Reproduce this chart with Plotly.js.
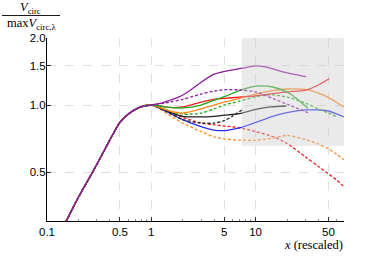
<!DOCTYPE html>
<html>
<head>
<meta charset="utf-8">
<script src="https://cdn.plot.ly/plotly-3.0.1.min.js"></script>
<style>html,body{margin:0;padding:0;background:#fff;}#chart{width:374px;height:259px;}</style>
</head>
<body>
<div id="chart"></div>
<script>
// shared rising part (x < 1), all curves overlap here
const riseX = [0.13, 0.154, 0.2, 0.274, 0.357, 0.45, 0.5, 0.62, 0.77, 1.0];
const riseY = [0.26, 0.303, 0.385, 0.5, 0.63, 0.77, 0.835, 0.92, 0.976, 1.0];

const purpleSolidX = [1.25, 1.5, 1.87, 2.33, 2.9, 3.9, 4.8, 5.6, 7.3, 10, 12.7, 18.3, 24, 30.6];
const purpleSolidY = [1.02, 1.05, 1.09, 1.16, 1.25, 1.37, 1.41, 1.43, 1.46, 1.50, 1.48, 1.41, 1.37, 1.34];

const purpleDashX = [1.5, 2, 3, 4, 5, 7, 10, 14.6, 21, 31.8];
const purpleDashY = [1.03, 1.06, 1.12, 1.155, 1.17, 1.17, 1.145, 1.07, 1.0, 0.924];

const greenSolidX = [1.5, 2, 3, 4, 5, 7, 10, 14.6, 21, 31.8];
const greenSolidY = [0.975, 0.97, 1.0, 1.05, 1.09, 1.16, 1.215, 1.205, 1.13, 0.967];

const greenDashX = [1.5, 2, 3, 4, 5, 7, 10, 14.6, 21, 30, 40, 50, 61.5];
const greenDashY = [0.94, 0.91, 0.92, 0.96, 1.0, 1.04, 1.09, 1.11, 1.08, 1.02, 0.96, 0.92, 0.88];

const redSolidX = [1.5, 2, 3, 4, 5, 7, 10, 14.6, 20, 30.6, 40, 51];
const redSolidY = [0.975, 0.98, 1.03, 1.06, 1.07, 1.085, 1.1, 1.125, 1.145, 1.167, 1.23, 1.316];

const redDashX = [1.5, 2, 3, 4, 5, 7, 10, 14.6, 20, 30, 40, 50, 60, 70];
const redDashY = [0.93, 0.88, 0.83, 0.815, 0.805, 0.79, 0.76, 0.722, 0.672, 0.585, 0.53, 0.49, 0.46, 0.43];

const orangeSolidX = [1.5, 2, 3, 4, 5, 7, 10, 14.6, 20, 30, 40, 50, 70];
const orangeSolidY = [0.94, 0.92, 0.96, 1.0, 1.03, 1.07, 1.12, 1.16, 1.18, 1.175, 1.13, 1.08, 0.98];

const orangeDashX = [1.5, 2, 3, 4, 5, 7, 10, 14.6, 20, 30, 40, 50, 60, 70];
const orangeDashY = [0.9, 0.83, 0.76, 0.72, 0.705, 0.695, 0.695, 0.71, 0.73, 0.70, 0.668, 0.635, 0.60, 0.568];

const blueSolidX = [1.5, 2, 3, 4, 5, 7, 10, 14.6, 20, 30, 40, 50, 70];
const blueSolidY = [0.92, 0.86, 0.8, 0.772, 0.768, 0.79, 0.835, 0.89, 0.925, 0.95, 0.95, 0.94, 0.885];

const blackSolidX = [1.5, 2, 3, 4, 5, 7, 10, 14, 19.7];
const blackSolidY = [0.93, 0.89, 0.885, 0.89, 0.9, 0.915, 0.955, 0.98, 0.99];

const blackDashX = [1.5, 2, 3, 4, 5, 6, 7.4];
const blackDashY = [0.92, 0.86, 0.83, 0.83, 0.85, 0.89, 0.95];

const xTicks = [0.1, 0.5, 1, 5, 10, 50];
const xTickText = ['0.1', '0.5', '1', '5', '10', '50'];
const yTicks = [0.5, 1.0, 1.5, 2.0];
const yTickText = ['0.5', '1.0', '1.5', '2.0'];

const C = {
  purple: '#8e1a9e', green: '#1fa81f', red: '#f01a1a',
  orange: '#ff8a1f', blue: '#2a2af0', black: '#202020'
};

function tr(tx, ty, color, dashed) {
  return {
    x: riseX.concat(tx), y: riseY.concat(ty), type: 'scatter', mode: 'lines',
    line: {color: color, width: 1.3, shape: 'spline', smoothing: 0.8, dash: dashed ? '3px,2px' : 'solid'},
    hoverinfo: 'skip', showlegend: false
  };
}

const data = [
  tr(orangeDashX, orangeDashY, C.orange, true),
  tr(redDashX, redDashY, C.red, true),
  tr(blueSolidX, blueSolidY, C.blue, false),
  tr(blackDashX, blackDashY, C.black, true),
  tr(blackSolidX, blackSolidY, C.black, false),
  tr(greenDashX, greenDashY, C.green, true),
  tr(orangeSolidX, orangeSolidY, C.orange, false),
  tr(redSolidX, redSolidY, C.red, false),
  tr(greenSolidX, greenSolidY, C.green, false),
  tr(purpleDashX, purpleDashY, C.purple, true),
  tr(purpleSolidX, purpleSolidY, C.purple, false)
];

const L = 47, R = 30, T = 38, B = 38, W = 374, H = 259;
const pw = W - L - R, ph = H - T - B;
const px2x = p => (p - L) / pw;
const py2y = p => (H - B - p) / ph;

const tickFont = {family: 'Liberation Sans, Arial, sans-serif', size: 11.5, color: '#000'};
const serif = 'Liberation Serif, DejaVu Serif, serif';

const layout = {
  width: W, height: H,
  margin: {l: L, r: R, t: T, b: B, pad: 0},
  paper_bgcolor: '#fff', plot_bgcolor: '#fff',
  showlegend: false,
  xaxis: {
    type: 'log', range: [-1, 1.8475],
    tickmode: 'array', tickvals: xTicks, ticktext: xTickText,
    ticks: 'inside', ticklen: 4, tickcolor: '#000', tickwidth: 0.8,
    minor: {ticks: 'inside', ticklen: 2, tickcolor: '#444', tickwidth: 0.6,
            tickmode: 'array',
            tickvals: [0.2,0.3,0.4,0.6,0.7,0.8,0.9,2,3,4,6,7,8,9,20,30,40,60,70], showgrid: false},
    showline: true, linecolor: '#000', linewidth: 1, mirror: false,
    showgrid: true, gridcolor: '#d8d8d8', gridwidth: 0.8, griddash: 'dash',
    zeroline: false, tickfont: tickFont
  },
  yaxis: {
    type: 'log', range: [-0.521, 0.30103],
    tickmode: 'array', tickvals: yTicks, ticktext: yTickText,
    ticks: 'inside', ticklen: 4, tickcolor: '#000', tickwidth: 0.8,
    ticklabelstandoff: -2,
    showline: true, linecolor: '#000', linewidth: 1, mirror: false,
    showgrid: true, gridcolor: '#d8d8d8', gridwidth: 0.8, griddash: 'dash',
    zeroline: false, tickfont: tickFont
  },
  shapes: [
    {type: 'rect', xref: 'paper', yref: 'paper', x0: px2x(241.7), x1: 1, y0: py2y(145.7), y1: 1,
     fillcolor: 'rgba(205,205,205,0.42)', line: {width: 0}, layer: 'above'},
    {type: 'line', xref: 'paper', yref: 'paper', x0: px2x(2), x1: px2x(60), y0: py2y(15.5), y1: py2y(15.5),
     line: {color: '#000', width: 0.9}}
  ],
  annotations: [
    {xref: 'paper', yref: 'paper', x: px2x(30), y: py2y(8), xanchor: 'center', yanchor: 'middle',
     text: '<i>V</i><sub>circ</sub>', showarrow: false, borderpad: 0, font: {family: serif, size: 12.5, color: '#000'}},
    {xref: 'paper', yref: 'paper', x: px2x(31), y: py2y(23.5), xanchor: 'center', yanchor: 'middle',
     text: 'max<i>V</i><sub>circ,λ</sub>', showarrow: false, borderpad: 0, font: {family: serif, size: 12.5, color: '#000'}},
    {xref: 'paper', yref: 'paper', x: 1, y: py2y(245), xanchor: 'right', yanchor: 'middle',
     text: '<i>x</i> (rescaled)', showarrow: false, borderpad: 0, font: {family: serif, size: 12.5, color: '#000'}}
  ]
};

Plotly.newPlot('chart', data, layout, {displayModeBar: false, staticPlot: true});
</script>
</body>
</html>
